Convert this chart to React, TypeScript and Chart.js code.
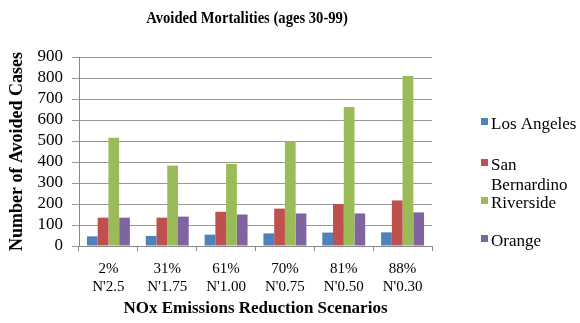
import React, { useEffect, useRef } from "react";
import { Chart, registerables } from "chart.js";

Chart.register(...registerables);

const categories: string[][] = [
  ["2%", "N'2.5"],
  ["31%", "N'1.75"],
  ["61%", "N'1.00"],
  ["70%", "N'0.75"],
  ["81%", "N'0.50"],
  ["88%", "N'0.30"],
];
const losAngeles = [46, 48, 54, 60, 64, 65];
const sanBernardino = [135, 135, 163, 178, 200, 217];
const riverside = [516, 383, 391, 499, 662, 809];
const orange = [135, 140, 150, 155, 155, 160];

const seriesNames = ["Los Angeles", "San Bernardino", "Riverside", "Orange"];
const legendLines = [["Los Angeles"], ["San", "Bernardino"], ["Riverside"], ["Orange"]];
const colors = ["#4F81BD", "#C0504D", "#9BBB59", "#8064A2"];
const chartTitle = "Avoided Mortalities (ages 30-99)";

const FONT = "'Liberation Serif', 'Times New Roman', serif";

const decorPlugin = {
  id: "decor",
  afterDraw(chart: any) {
    const ctx = chart.ctx;
    const area = chart.chartArea;
    ctx.save();
    // title (slightly condensed like the reference)
    ctx.font = `bold 17px ${FONT}`;
    ctx.fillStyle = "#000";
    ctx.textAlign = "center";
    ctx.textBaseline = "middle";
    ctx.translate(area.left + 168, area.top - 38);
    ctx.scale(0.86, 1);
    ctx.fillText(chartTitle, 0, 0);
    ctx.restore();
    ctx.save();
    // legend
    const x0 = area.right + 49;
    const rowCenters = [125, 166, 204, 242].map((v) => v - 246 + area.bottom);
    ctx.font = `17px ${FONT}`;
    ctx.textAlign = "left";
    ctx.textBaseline = "middle";
    legendLines.forEach((lines, i) => {
      const cy = rowCenters[i];
      ctx.fillStyle = colors[i];
      ctx.fillRect(x0, cy - 7, 7, 7);
      ctx.fillStyle = "#000";
      lines.forEach((t, j) => {
        ctx.fillText(t, x0 + 10, cy + j * 20);
      });
    });
    ctx.restore();
  },
};

export default function App() {
  const ref = useRef<HTMLCanvasElement>(null);
  useEffect(() => {
    const data = [losAngeles, sanBernardino, riverside, orange];
    const chart = new Chart(ref.current!, {
      type: "bar",
      data: {
        labels: categories,
        datasets: data.map((d, i) => ({
          label: seriesNames[i],
          data: d,
          backgroundColor: colors[i],
          borderWidth: 0,
          categoryPercentage: 0.73,
          barPercentage: 1,
        })),
      },
      options: {
        animation: false,
        responsive: false,
        maintainAspectRatio: false,
        layout: { padding: { left: 0, right: 148, top: 57, bottom: 0 } },
        plugins: {
          legend: { display: false },
          tooltip: { enabled: false },
          title: { display: false },
        },
        scales: {
          x: {
            afterFit: (s: any) => {
              s.height = 77;
            },
            grid: {
              offset: true,
              drawOnChartArea: false,
              drawTicks: true,
              tickLength: 5,
              color: "#888",
            },
            border: { color: "#888" },
            ticks: {
              color: "#000",
              font: { family: FONT, size: 15 },
              maxRotation: 0,
              autoSkip: false,
              padding: 9,
            },
            title: {
              display: true,
              text: "NOx Emissions Reduction Scenarios",
              color: "#000",
              font: { family: FONT, size: 17, weight: "bold" },
              padding: { top: 4, bottom: 4 },
            },
          },
          y: {
            min: 0,
            max: 900,
            afterFit: (s: any) => {
              s.width = 79;
            },
            ticks: {
              stepSize: 100,
              autoSkip: false,
              color: "#000",
              font: { family: FONT, size: 17 },
              padding: 9,
            },
            grid: { color: "#999", drawTicks: true, tickLength: 7 },
            border: { color: "#888" },
            title: {
              display: true,
              text: "Number of Avoided Cases",
              color: "#000",
              font: { family: FONT, size: 18, weight: "bold" },
              padding: { top: 7, bottom: 2 },
            },
          },
        },
      },
      plugins: [decorPlugin],
    });
    return () => chart.destroy();
  }, []);
  return (
    <div style={{ position: "absolute", left: 0, top: 0, width: 580, height: 323, background: "#fff" }}>
      <canvas ref={ref} width={580} height={323} style={{ width: 580, height: 323 }} />
    </div>
  );
}
